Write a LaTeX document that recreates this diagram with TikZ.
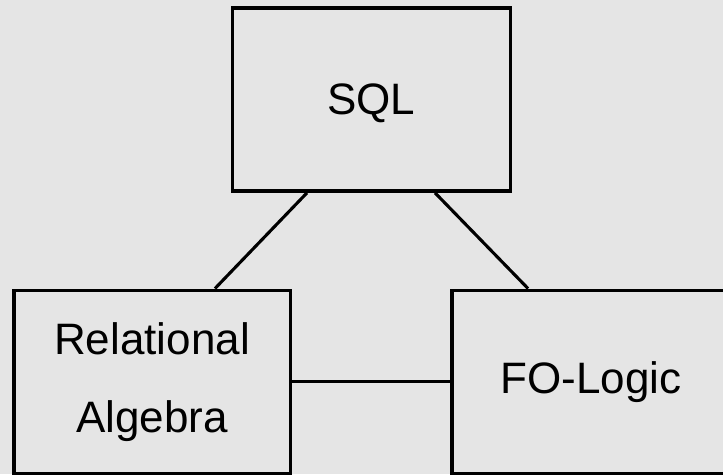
\documentclass[tikz,border=0pt]{standalone}
\usepackage{fontspec}
\setmainfont{Liberation Sans}
\definecolor{paper}{RGB}{229,229,229}
\tikzset{
  box/.style={draw=black, line width=3.6pt, fill=paper, inner sep=0pt,
    minimum width=278pt, minimum height=183pt, align=center,
    font=\fontsize{44}{78}\selectfont},
  link/.style={draw=black, line width=3.1pt}
}
\begin{document}
\begin{tikzpicture}[x=1pt,y=-1pt]
  % canvas and clipping frame
  \fill[paper] (0,0) rectangle (723,474);
  \useasboundingbox (0,0) rectangle (723,474);
  \clip (0,0) rectangle (723,474);
  % the three languages
  \node[box, text depth=0pt] (sql) at (371.4,99.5) {SQL};
  \node[box, minimum width=276.6pt] (rel) at (152,381.8) {Relational\\Algebra};
  \node[box] (fo) at (591,381.8) {FO-Logic};
  % equivalences between them
  \draw[link] ([xshift=-64.4pt]sql.south) -- ([xshift=63pt]rel.north);
  \draw[link] ([xshift=63.6pt]sql.south) -- ([xshift=-63pt]fo.north);
  \draw[link] (rel.east) -- (fo.west);
\end{tikzpicture}
\end{document}
